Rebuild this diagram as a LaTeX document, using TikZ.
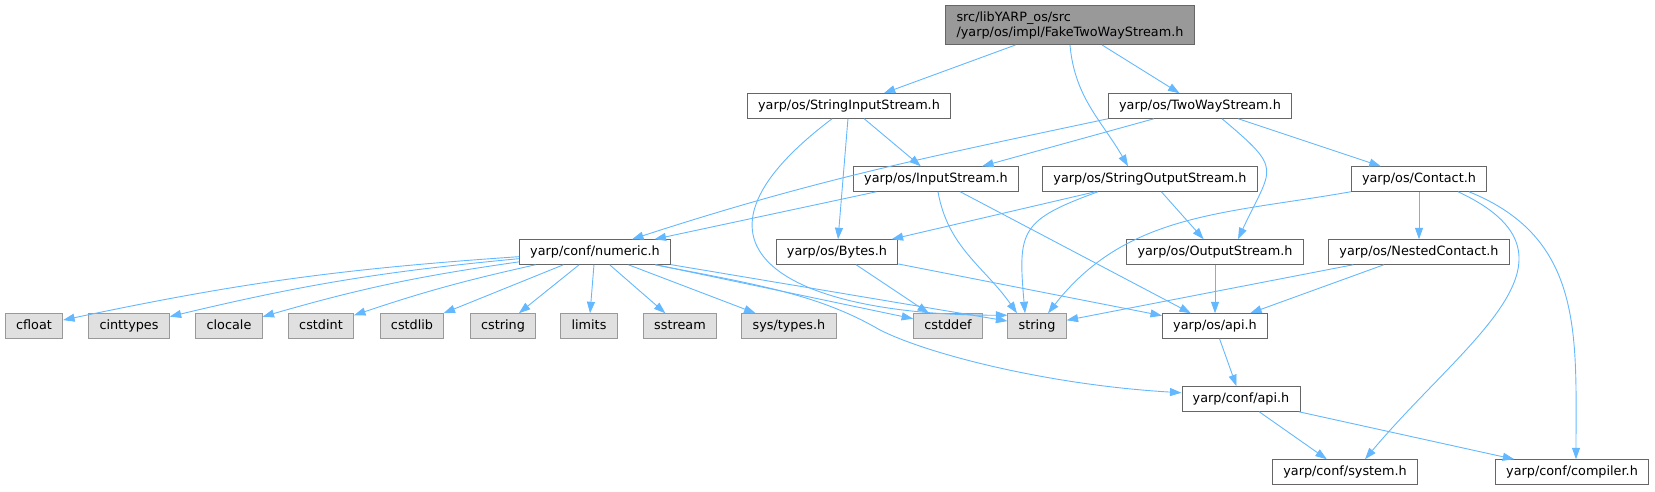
\documentclass[tikz,border=0pt]{standalone}
\usepackage{fontspec}
\setmainfont{DejaVu Sans}
\usetikzlibrary{arrows.meta,positioning}
\definecolor{edgeblue}{HTML}{63B8FF}
\definecolor{nodegray}{HTML}{666666}
\definecolor{leafgray}{HTML}{999999}
\definecolor{leaffill}{HTML}{E0E0E0}
\definecolor{rootfill}{HTML}{999999}

\begin{document}
\begin{tikzpicture}[x=1pt,y=-1pt,>={Triangle[length=11.5pt,width=8pt]},
    inc/.style={draw=nodegray,fill=white,line width=1pt,inner xsep=10.7pt,inner ysep=6pt,
                text height=9.6pt,text depth=2.9pt,font=\fontsize{12.8pt}{15pt}\selectfont},
    sysinc/.style={inc,draw=leafgray,fill=leaffill},
    mainfile/.style={draw=nodegray,fill=rootfill,line width=1pt,inner xsep=10.7pt,inner ysep=4pt,
                align=left,minimum height=39pt,font=\fontsize{12.8pt}{15pt}\selectfont}]
			  \useasboundingbox (0,0) rectangle (1655,491);
			  \node[mainfile]   (root)     at (1070,25)   {src/libYARP\_os/src\\/yarp/os/impl/FakeTwoWayStream.h};
			  \node[inc]        (sis)      at (849,106)   {yarp/os/StringInputStream.h};
			  \node[inc]        (tws)      at (1200,106)  {yarp/os/TwoWayStream.h};
			  \node[inc]        (is)       at (936,179)   {yarp/os/InputStream.h};
			  \node[inc]        (sos)      at (1150,179)  {yarp/os/StringOutputStream.h};
			  \node[inc]        (contact)  at (1419,179)  {yarp/os/Contact.h};
			  \node[inc]        (numeric)  at (595,252)   {yarp/conf/numeric.h};
			  \node[inc]        (bytes)    at (837,252)   {yarp/os/Bytes.h};
			  \node[inc]        (ostream)  at (1215,252)  {yarp/os/OutputStream.h};
			  \node[inc]        (nested)   at (1419,252)  {yarp/os/NestedContact.h};
			  \node[sysinc]     (cfloat)   at (34,326)    {cfloat};
			  \node[sysinc]     (cinttypes) at (129,326)  {cinttypes};
			  \node[sysinc]     (clocale)  at (229,326)   {clocale};
			  \node[sysinc]     (cstdint)  at (321,326)   {cstdint};
			  \node[sysinc]     (cstdlib)  at (412,326)   {cstdlib};
			  \node[sysinc]     (cstring)  at (503,326)   {cstring};
			  \node[sysinc]     (limits)   at (589,326)   {limits};
			  \node[sysinc]     (sstream)  at (680,326)   {sstream};
			  \node[sysinc]     (systypes) at (789,326)   {sys/types.h};
			  \node[sysinc]     (cstddef)  at (948,326)   {cstddef};
			  \node[sysinc]     (string)   at (1037,326)  {string};
			  \node[inc]        (osapi)    at (1215,326)  {yarp/os/api.h};
			  \node[inc]        (confapi)  at (1241,399)  {yarp/conf/api.h};
			  \node[inc]        (system)   at (1345,472)  {yarp/conf/system.h};
			  \node[inc]        (compiler) at (1572,472)  {yarp/conf/compiler.h};

			\tikzset{dep/.style={->,draw=edgeblue,line width=0.9pt}}

			\path (root)     edge [dep]    (sis)
				  (root.south) edge [dep, out=-85, in=120]    ([xshift=-22pt]sos.north)
				  (root)     edge [dep]    (tws)
				  (sis)      edge [dep]    (is)
				  (sis)      edge [dep]    (bytes)
				  (sis)      edge [dep, out=217, in=180, looseness=2.1]    (string.160)
				  (tws)      edge [dep]    (is)
				  (tws.south west) edge [dep, out=192, in=18]    ([xshift=37pt]numeric.north)
				  ([xshift=22pt]tws.south) edge [dep, out=-40, in=65, looseness=1.7]    ([xshift=23pt]ostream.north)
				  (tws)      edge [dep]    (contact)
				  (is)       edge [dep]    (numeric)
				  ([xshift=2pt]is.south) edge [dep, out=-80, in=125]    ([xshift=-20pt]string.north)
				  (is)       edge [dep]    (osapi)
				  (sos)      edge [dep]    (bytes)
				  ([xshift=-52pt]sos.south) edge [dep, out=200, in=95, looseness=1.5]    ([xshift=-12pt]string.north)
				  (sos)      edge [dep]    (ostream)
				  (contact.south west) edge [dep, out=190, in=52]    ([xshift=11pt]string.north)
				  (contact)  edge [dep]    (nested)
				  ([xshift=39pt]contact.south) edge [dep, out=-25, in=50, looseness=1.4]    ([xshift=20pt]system.north)
				  ([xshift=50pt]contact.south) edge [dep, out=-22, in=90, looseness=1.1]    ([xshift=4pt]compiler.north)
				  (nested)   edge [dep]    (string)
				  (nested)   edge [dep]    (osapi)
				  (ostream)  edge [dep]    (osapi)
				  (bytes)    edge [dep]    (cstddef)
				  (bytes)    edge [dep]    (osapi)
				  (osapi)    edge [dep]    (confapi)
				  (confapi)  edge [dep]    (system)
				  (confapi)  edge [dep]    (compiler);

			\path (numeric)  edge [dep, bend right=4]    (cfloat)
				  (numeric)  edge [dep, bend right=4]    (cinttypes)
				  (numeric)  edge [dep, bend right=4]    (clocale)
				  (numeric)  edge [dep, bend right=3]    (cstdint)
				  (numeric)  edge [dep]    (cstdlib)
				  (numeric)  edge [dep]    (cstring)
				  (numeric)  edge [dep]    (limits)
				  (numeric)  edge [dep]    (sstream)
				  (numeric)  edge [dep]    (systypes)
				  (numeric)  edge [dep]    (cstddef)
				  (numeric)  edge [dep]    (string);
			\draw[dep] (numeric.-12) .. controls (760,285) and (820,295) .. (880,330)
				  .. controls (930,355) and (1050,385) .. (confapi.174);
		\end{tikzpicture}
\end{document}
